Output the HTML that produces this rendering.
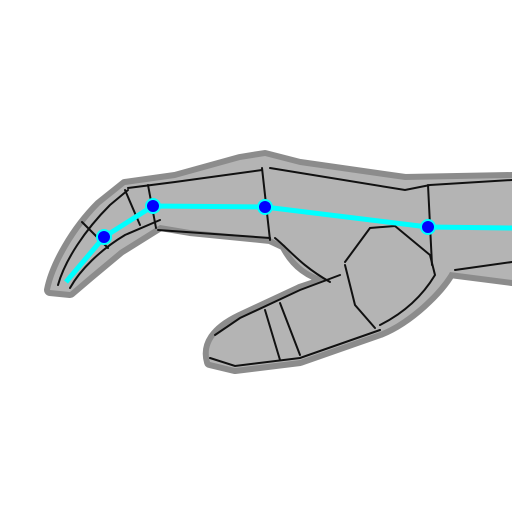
<!DOCTYPE html>
<html><head><meta charset="utf-8"><style>
html,body{margin:0;padding:0;background:#fff;width:512px;height:512px;overflow:hidden}
svg{display:block}
</style></head><body>
<svg width="512" height="512" viewBox="0 0 512 512">
  <g fill="#8c8c8c" stroke="#8c8c8c" stroke-width="12" stroke-linejoin="round">
    <path d="M50,290 C55,265 75,230 100,205 L125,185 L175,178 L240,160 L265,156 L300,165 L405,180 L512,178 L512,280 L450,272 C440,290 410,320 380,332 L300,360 L235,368 L210,362 C205,345 215,330 240,318 L300,290 L330,280 C310,275 295,265 285,245 L270,238 L190,230 L160,225 L120,250 L90,275 L70,292 Z"/>
  </g>
  <g fill="#b4b4b4" stroke="none">
    <path d="M50,290 C55,265 75,230 100,205 L125,185 L175,178 L240,160 L265,156 L300,165 L405,180 L512,178 L512,280 L450,272 C440,290 410,320 380,332 L300,360 L235,368 L210,362 C205,345 215,330 240,318 L300,290 L330,280 C310,275 295,265 285,245 L270,238 L190,230 L160,225 L120,250 L90,275 L70,292 Z"/>
  </g>
  <g fill="none" stroke="#111" stroke-width="2" stroke-linecap="round">
    <path d="M58,285 C65,260 85,230 110,205 L128,190"/>
    <path d="M70,288 C80,270 100,250 125,235 L160,220"/>
    <path d="M82,222 L108,248"/>
    <path d="M125,190 L140,225"/>
    <path d="M128,188 L175,182 L262,170"/>
    <path d="M148,185 L156,228"/>
    <path d="M158,230 L270,238"/>
    <path d="M262,168 L270,240"/>
    <path d="M270,168 L405,190 L430,185 L512,180"/>
    <path d="M275,238 C290,250 300,265 330,282"/>
    <path d="M428,185 L432,265"/>
    <path d="M455,270 L512,262"/>
    <path d="M345,262 L370,228 L395,226 L430,255 L435,275 C420,300 400,315 380,325"/>
    <path d="M345,265 L355,305 L375,328"/>
    <path d="M280,303 L300,355"/>
    <path d="M265,310 L280,360"/>
    <path d="M215,335 L240,318 L300,290 L340,275"/>
    <path d="M210,358 L235,366 L300,358 L380,330"/>
  </g>
  <g>
    <polyline points="66,282 104,237 153,206 265,207 428,227 512,228" fill="none" stroke="#00ffff" stroke-width="5"/>
  </g>
  <g fill="#0000ff" stroke="#00ffff" stroke-width="2">
    <circle cx="104" cy="237" r="7"/>
    <circle cx="153" cy="206" r="7"/>
    <circle cx="265" cy="207" r="7"/>
    <circle cx="428" cy="227" r="7"/>
  </g>
</svg>
</body></html>
